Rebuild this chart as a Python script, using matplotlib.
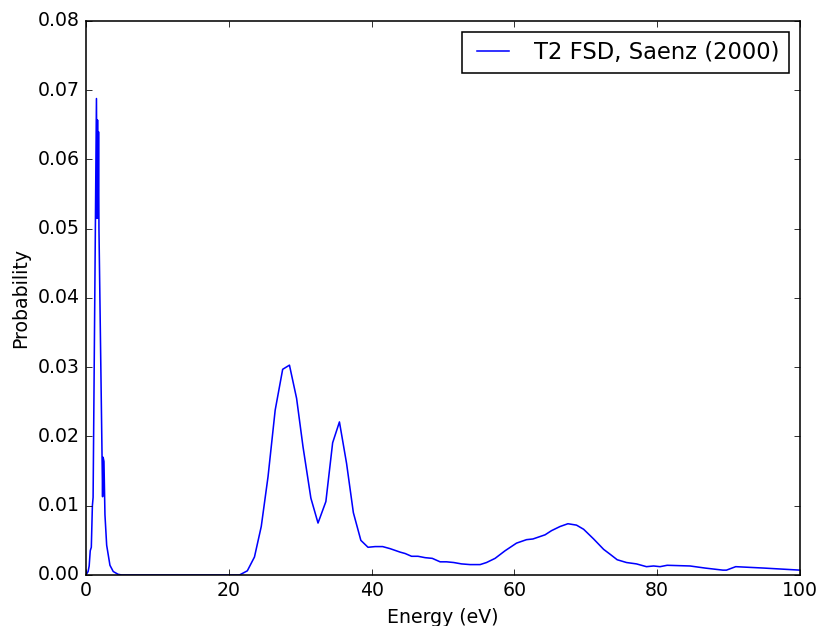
import matplotlib
matplotlib.use('Agg')
import matplotlib.pyplot as plt

# T2 final state distribution
energy_low = [0.0, 0.3, 0.45, 0.6, 0.75, 0.9, 1.0, 1.47, 1.55, 1.62, 1.70, 1.76, 1.82,
              2.33, 2.40, 2.52, 2.66, 2.90, 3.36, 3.82, 4.5, 5.0]
prob_low = [0.0, 0.0005, 0.0013, 0.0035, 0.0040, 0.0100, 0.0112, 0.0688, 0.0515, 0.0657,
            0.0515, 0.0640, 0.0500, 0.0113, 0.0170, 0.0164, 0.0087, 0.0043, 0.0014,
            0.0005, 0.0001, 0.0]

energy_high = [10.0, 21.5, 22.6, 23.6, 24.55, 25.5, 26.5, 27.55, 28.5, 29.5, 30.4, 31.5,
               32.5, 33.6, 34.55, 35.5, 36.5, 37.45, 38.5, 39.5, 40.5, 41.55, 42.6, 44.0,
               44.7, 45.6, 46.5, 47.5, 48.5, 49.6, 50.5, 51.5, 52.6, 53.8, 55.2, 56.1,
               57.3, 58.7, 60.3, 61.7, 62.6, 64.3, 65.2, 66.4, 67.5, 68.7, 69.7, 71.1,
               72.5, 73.4, 74.4, 75.7, 77.1, 78.5, 79.5, 80.4, 81.4, 84.6, 86.7, 89.2,
               89.7, 91.0, 94.9, 100.0]
prob_high = [0.0, 0.0, 0.0006, 0.0026, 0.0070, 0.0142, 0.0238, 0.0297, 0.0303, 0.0255,
             0.0185, 0.0111, 0.0075, 0.0106, 0.0191, 0.0221, 0.0161, 0.0090, 0.0050,
             0.0040, 0.0041, 0.0041, 0.0038, 0.0033, 0.0031, 0.0027, 0.0027, 0.0025,
             0.0024, 0.0019, 0.0019, 0.0018, 0.0016, 0.0015, 0.0015, 0.0018, 0.0024,
             0.0035, 0.0046, 0.0051, 0.0052, 0.0058, 0.0064, 0.0070, 0.0074, 0.0072,
             0.0066, 0.0052, 0.0037, 0.0030, 0.0022, 0.0018, 0.0016, 0.0012, 0.0013,
             0.0012, 0.0014, 0.0013, 0.0010, 0.0007, 0.0007, 0.0012, 0.0010, 0.0007]

energy = energy_low + energy_high
prob = prob_low + prob_high

plt.style.use('classic')
# reference was rendered a bit larger than 100 dpi, so scale everything uniformly
dpi = 113.3
fig = plt.figure(figsize=(821 / dpi, 626 / dpi), dpi=dpi, facecolor='white')
ax = fig.add_axes([0.1047, 0.0815, 0.8697, 0.885])

ax.plot(energy, prob, color='b', lw=1.0, label='T2 FSD, Saenz (2000)')
ax.set_xlim(0, 100)
ax.set_ylim(0, 0.08)
ax.set_xlabel('Energy (eV)')
ax.set_ylabel('Probability')
ax.legend(loc='upper right')

fig.savefig('out.png', dpi=dpi, facecolor='white')
